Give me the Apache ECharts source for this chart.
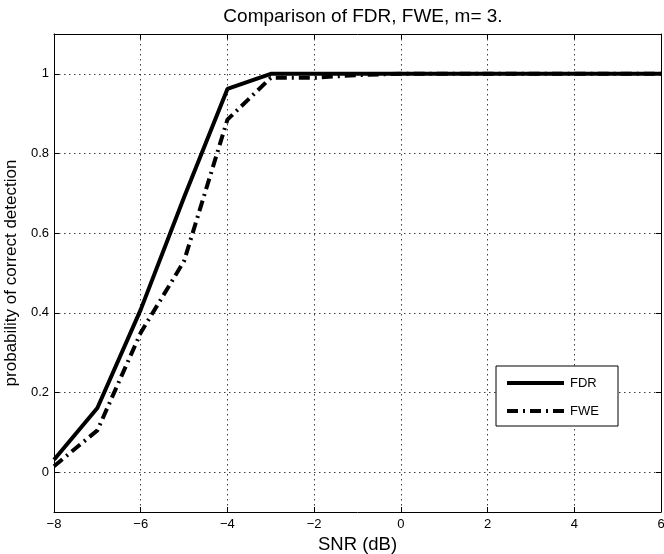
<!DOCTYPE html>
<html><head><meta charset="utf-8">
<script src="https://cdn.jsdelivr.net/npm/echarts@6/dist/echarts.min.js"></script>
<style>html,body{margin:0;padding:0;background:#fff}#c{width:664px;height:554px}</style>
</head><body><div id="c"></div>
<script>
const snr = [-8, -7, -6, -5, -4, -3, -2, -1, 0, 1, 2, 3, 4, 5, 6];
const fdr = [0.031, 0.161, 0.408, 0.69, 0.962, 1.0, 1.0, 1.0, 1.0, 1.0, 1.0, 1.0, 1.0, 1.0, 1.0];
const fwe = [0.015, 0.105, 0.35, 0.53, 0.885, 0.99, 0.99, 0.997, 1.0, 1.0, 1.0, 1.0, 1.0, 1.0, 1.0];
const xTicks = [-8, -6, -4, -2, 0, 2, 4, 6];
const yTicks = [0, 0.2, 0.4, 0.6, 0.8, 1];

const font = 'Liberation Sans, Arial, Helvetica, sans-serif';
const chart = echarts.init(document.getElementById('c'));
const gridStyle = {show: true, lineStyle: {color: '#000', type: [1.5, 3.5], width: 1, opacity: 0.75}};
const lineAx = {show: true, onZero: false, lineStyle: {color: '#000', width: 1}};
chart.setOption({
  animation: false,
  title: {text: 'Comparison of FDR, FWE, m= 3.', left: 358, top: 2, textAlign: 'center',
    textStyle: {fontFamily: font, fontSize: 19, fontWeight: 'normal', color: '#000'}},
  grid: {left: 54, right: 3, top: 34, bottom: 42, show: false, containLabel: false, outerBoundsMode: 'none'},
  legend: {show: false},
  xAxis: [{
    type: 'value', min: -8, max: 6, position: 'bottom',
    name: 'SNR (dB)', nameLocation: 'middle', nameGap: 21,
    nameTextStyle: {fontFamily: font, fontSize: 18.5, color: '#000'},
    axisLine: lineAx,
    axisTick: {show: true, inside: true, length: 5, customValues: xTicks, lineStyle: {color: '#000'}},
    axisLabel: {fontFamily: font, fontSize: 13, color: '#000', margin: 6, customValues: xTicks,
      formatter: v => String(v).replace('-', '\u2212')},
    splitLine: gridStyle
  }, {
    type: 'value', min: -8, max: 6, position: 'top',
    axisLine: lineAx,
    axisTick: {show: true, inside: true, length: 5, customValues: xTicks, lineStyle: {color: '#000'}},
    axisLabel: {show: false}, splitLine: {show: false}
  }],
  yAxis: [{
    type: 'value', min: -0.1, max: 1.1, position: 'left',
    name: 'probability of correct detection', nameLocation: 'middle', nameGap: 33,
    nameTextStyle: {fontFamily: font, fontSize: 17, color: '#000'},
    axisLine: lineAx,
    axisTick: {show: true, inside: true, length: 5, customValues: yTicks, lineStyle: {color: '#000'}},
    axisLabel: {fontFamily: font, fontSize: 13, color: '#000', margin: 5, customValues: yTicks},
    splitLine: gridStyle
  }, {
    type: 'value', min: -0.1, max: 1.1, position: 'right',
    axisLine: lineAx,
    axisTick: {show: true, inside: true, length: 5, customValues: yTicks, lineStyle: {color: '#000'}},
    axisLabel: {show: false}, splitLine: {show: false}
  }],
  series: [{
    name: 'FWE', type: 'line', data: snr.map((x, i) => [x, fwe[i]]),
    showSymbol: false, lineStyle: {color: '#000', width: 4, type: [11, 5, 2, 5]}
  }, {
    name: 'FDR', type: 'line', data: snr.map((x, i) => [x, fdr[i]]),
    showSymbol: false, lineStyle: {color: '#000', width: 4, type: 'solid'}
  }],
  graphic: [
    {type: 'rect', shape: {x: 496, y: 366, width: 122, height: 60}, style: {fill: '#fff', stroke: '#000', lineWidth: 1}, z: 100},
    {type: 'line', shape: {x1: 507, y1: 383, x2: 564, y2: 383}, style: {stroke: '#000', lineWidth: 4}, z: 101},
    {type: 'line', shape: {x1: 507, y1: 411, x2: 564, y2: 411}, style: {stroke: '#000', lineWidth: 4, lineDash: [11, 5, 2, 5]}, z: 101},
    {type: 'text', x: 570, y: 383, style: {text: 'FDR', fontFamily: font, fontSize: 13, fill: '#000', verticalAlign: 'middle'}, z: 101},
    {type: 'text', x: 570, y: 411, style: {text: 'FWE', fontFamily: font, fontSize: 13, fill: '#000', verticalAlign: 'middle'}, z: 101}
  ]
});
</script></body></html>
